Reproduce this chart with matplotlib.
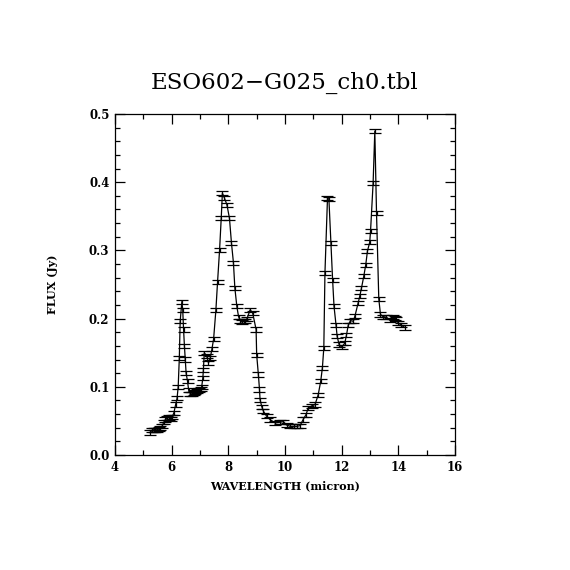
import matplotlib
matplotlib.use("Agg")
import matplotlib.pyplot as plt
from matplotlib.ticker import MultipleLocator

title = "ESO602\u2212G025_ch0.tbl"
xlabel = "WAVELENGTH (micron)"
ylabel = "FLUX (Jy)"

wavelength = [
    5.24, 5.30, 5.36, 5.42, 5.48, 5.54, 5.60, 5.66, 5.72, 5.78, 5.84, 5.90,
    5.96, 6.02, 6.08, 6.14, 6.19, 6.23, 6.27, 6.30, 6.36, 6.39, 6.42, 6.45,
    6.48, 6.51, 6.56, 6.60, 6.66, 6.72, 6.78, 6.84, 6.90, 6.96, 7.02, 7.06,
    7.10, 7.12, 7.15, 7.24, 7.30, 7.36, 7.42, 7.48, 7.56, 7.62, 7.69, 7.75,
    7.79, 7.86, 7.95, 8.04, 8.11, 8.18, 8.23, 8.30, 8.36, 8.42, 8.48, 8.54,
    8.60, 8.66, 8.77, 8.86, 8.98, 9.00, 9.06, 9.10, 9.12, 9.18, 9.24, 9.35,
    9.47, 9.65, 9.82, 9.94, 10.06, 10.18, 10.30, 10.42, 10.53, 10.64, 10.74,
    10.82, 10.94, 11.06, 11.17, 11.26, 11.32, 11.37, 11.41, 11.50, 11.55,
    11.62, 11.68, 11.73, 11.80, 11.84, 11.91, 12.00, 12.11, 12.17, 12.23,
    12.31, 12.41, 12.47, 12.58, 12.64, 12.70, 12.78, 12.85, 12.91, 12.99,
    13.02, 13.11, 13.17, 13.23, 13.31, 13.37, 13.46, 13.58, 13.70, 13.80,
    13.87, 13.93, 13.99, 14.11, 14.23,
]
flux = [
    0.033, 0.036, 0.037, 0.036, 0.037, 0.038, 0.039, 0.042, 0.048, 0.052, 0.054, 0.055,
    0.053, 0.056, 0.062, 0.074, 0.083, 0.100, 0.142, 0.196, 0.225, 0.213, 0.184, 0.160,
    0.140, 0.120, 0.108, 0.095, 0.090, 0.089, 0.091, 0.093, 0.094, 0.095, 0.097, 0.100,
    0.113, 0.125, 0.150, 0.145, 0.135, 0.142, 0.155, 0.170, 0.212, 0.254, 0.300, 0.348,
    0.384, 0.377, 0.367, 0.347, 0.311, 0.282, 0.245, 0.218, 0.203, 0.197, 0.195, 0.196,
    0.197, 0.200, 0.213, 0.208, 0.184, 0.147, 0.118, 0.096, 0.081, 0.071, 0.064, 0.057,
    0.052, 0.047, 0.048, 0.049, 0.044, 0.042, 0.042, 0.042, 0.043, 0.052, 0.059,
    0.069, 0.072, 0.074, 0.088, 0.108, 0.128, 0.157, 0.267, 0.377, 0.375,
    0.311, 0.257, 0.218, 0.191, 0.174, 0.162, 0.158, 0.164, 0.176, 0.190,
    0.197, 0.196, 0.204, 0.223, 0.233, 0.245, 0.262, 0.279, 0.299, 0.312,
    0.329, 0.399, 0.475, 0.355, 0.229, 0.206, 0.203, 0.202, 0.198, 0.203,
    0.201, 0.199, 0.194, 0.190, 0.187,
]
flux_err = 0.003

fig = plt.figure(figsize=(5.7, 5.7), dpi=100)
ax = fig.add_axes([115/570, 1 - 455/570, 340/570, 341/570])

ax.errorbar(wavelength, flux, yerr=flux_err, color="black", lw=0.9,
            elinewidth=0.9, capsize=4.0, capthick=0.9, fmt="-")

ax.set_xlim(4, 16)
ax.set_ylim(0, 0.5)
ax.xaxis.set_major_locator(MultipleLocator(2))
ax.xaxis.set_minor_locator(MultipleLocator(1))
ax.yaxis.set_major_locator(MultipleLocator(0.1))
ax.yaxis.set_minor_locator(MultipleLocator(0.02))
ax.tick_params(which="both", direction="in", top=True, right=True, width=0.9)
ax.tick_params(which="major", length=7)
ax.tick_params(which="minor", length=3.5)
for s in ax.spines.values():
    s.set_linewidth(0.9)

ax.set_xticklabels([f"{int(v)}" for v in ax.get_xticks()])
ax.set_yticklabels([f"{v:.1f}" for v in ax.get_yticks()])
for lab in ax.get_xticklabels() + ax.get_yticklabels():
    lab.set_fontfamily("DejaVu Serif")
    lab.set_fontsize(8.5)
    lab.set_fontweight("semibold")
ax.tick_params(axis="x", pad=4)
ax.tick_params(axis="y", pad=4)

ax.set_xlabel(xlabel, family="DejaVu Serif", fontsize=8, fontweight="bold", labelpad=5)
ax.set_ylabel(ylabel, family="DejaVu Serif", fontsize=8, fontweight="bold", labelpad=22)
fig.text(0.5 * (115 + 455) / 570, 1 - 83 / 570, title, family="DejaVu Serif",
         fontsize=16.5, ha="center", va="center")

fig.savefig("out.png", dpi=100)
